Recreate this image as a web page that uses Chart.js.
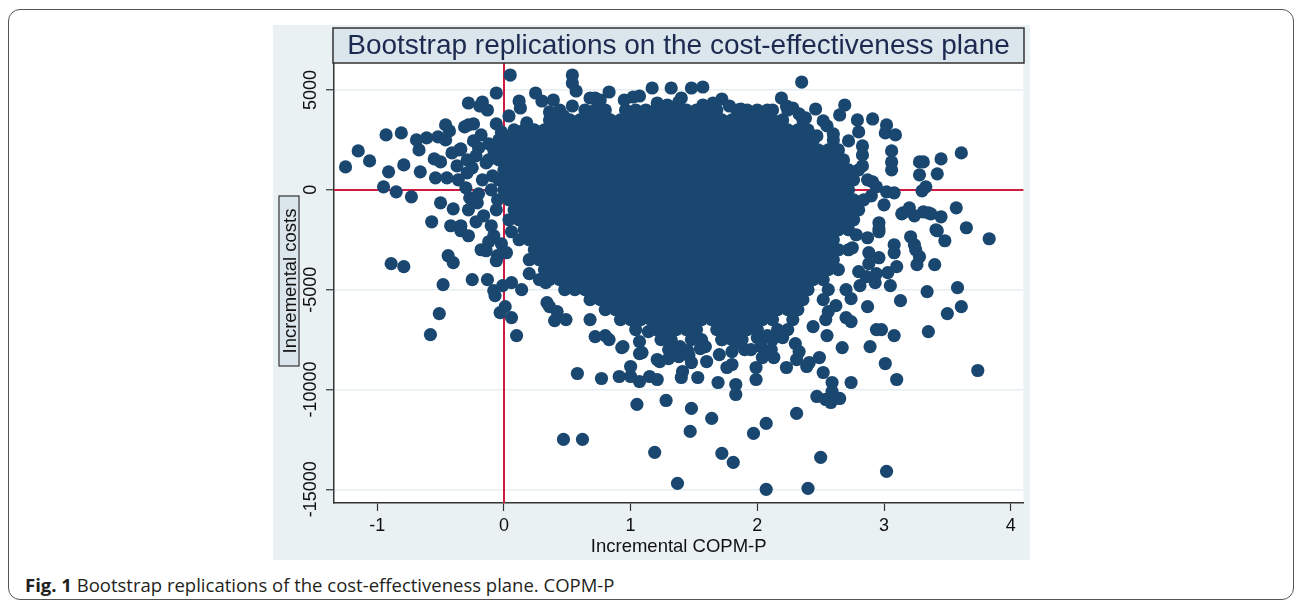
<!DOCTYPE html>
<html>
<head>
  <title>Bootstrap replications on the cost-effectiveness plane</title>
  <script src="https://cdn.jsdelivr.net/npm/chart.js"></script>
  <style>
    body { margin: 0; background: #fff; }
    .card { position: absolute; left: 8px; top: 9px; width: 1286px; height: 591px; box-sizing: border-box; border: 1.5px solid #555; border-radius: 12px; }
    .panel { position: absolute; left: 273px; top: 25px; width: 757px; height: 535px; background: #eaf1f3; }
    .caption { position: absolute; left: 25px; top: 572px; font-family: "Open Sans", sans-serif; font-size: 18.5px; color: #231f20; white-space: nowrap; }
  </style>
</head>
<body>
  <div class="card"></div>
  <div class="panel"><canvas id="plane" width="757" height="535"></canvas></div>
  <div class="caption"><b>Fig. 1</b> Bootstrap replications of the cost-effectiveness plane. COPM-P</div>

  <script>
    const chartTitle = "Bootstrap replications on the cost-effectiveness plane";
    const xTitle = "Incremental COPM-P";
    const yTitle = "Incremental costs";
    const xTicks = [-1, 0, 1, 2, 3, 4];
    const yTicks = [5000, 0, -5000, -10000, -15000];

    // scattered replications around the cloud: [incremental COPM-P, incremental cost]
    const edgePoints = [
      [-1.25,1150],[-1.15,1950],[-1.06,1450],[-0.93,2750],[-0.81,2850],[-0.91,900],[-0.79,1250],[-0.95,150],[-0.85,-100],[-0.73,-350],
      [-0.69,2500],[-0.67,2000],[-0.61,2600],[-0.66,900],[-0.52,2650],[-0.46,3250],[-0.43,2950],[-0.55,1550],[-0.5,1400],[-0.46,2500],
      [-0.41,1850],[-0.35,2000],[-0.37,1200],[-0.54,600],[-0.45,600],[-0.36,500],[-0.5,-650],[-0.4,-950],[-0.57,-1600],[-0.42,-1800],
      [-0.34,-1800],[-0.28,4350],[-0.19,4200],[-0.17,4400],[-0.13,4000],[-0.06,4850],[0.05,5750],[-0.28,3250],[-0.31,3150],[-0.24,3300],
      [-0.06,3300],[-0.02,2900],[-0.34,2050],[-0.24,2450],[-0.18,2750],[-0.29,1500],[-0.29,850],[-0.3,100],[-0.27,-400],[-0.28,-1000],
      [-0.34,-2050],[-0.28,-2300],[-0.18,-3000],[-0.14,-3050],[-0.08,-2300],[-0.1,-1800],[-0.05,-3300],[0.02,-3150],[-0.44,-3300],[-0.4,-3650],
      [-0.89,-3700],[-0.79,-3850],[0.04,3700],[0.12,4450],[0.13,4100],[0.25,4850],[0.3,4450],[0.39,4500],[0.36,3900],[0.18,3350],
      [-0.2,2100],[-0.17,500],[-0.21,-650],[-0.1,0],[-0.06,-1000],[-0.22,1700],[-0.25,1100],[-0.2,-200],[-0.16,-1300],[-0.22,-1600],
      [-0.12,-2600],[-0.02,-2700],[0.06,-2100],[-0.14,1350],[-0.09,700],[-0.12,2300],[0.03,2650],[-0.05,-500],
      [0.54,5750],[0.54,5350],[0.57,4950],[0.83,4900],[1.17,5100],[1.32,5100],[1.48,5100],[1.57,5150],[2.19,4600],[1.87,4050],
      [1.97,3750],[1.72,4550],[1.4,4600],[1.07,4700],[1.02,4650],[0.68,4600],[0.72,4600],[0.54,4200],[0.76,4500],[0.95,4500],
      [1.21,4350],[1.29,4250],[1.38,4400],[1.57,4250],[1.65,4350],[1.78,4200],[2.12,4000],[2.23,4200],[2.28,4100],[2.35,5400],
      [2.46,4050],[0.44,4000],[0.47,3700],[2.33,3800],[2.38,3600],
      [2.69,4250],[2.65,3750],[2.79,3500],[2.91,3550],[3.02,3250],[3.01,2850],[3.09,2750],[2.8,2900],[2.72,2450],[3.06,1950],
      [3.06,1400],[3.06,1000],[3.28,1400],[3.31,1400],[3.28,750],[3.42,800],[3.45,1550],[3.61,1850],[3.33,150],[3.3,-50],
      [3.02,-100],[3.08,-150],[2.83,2200],[2.83,1200],[2.91,400],[2.87,500],[2.83,1750],[3,-750],[2.55,3200],[2.6,2800],
      [2.9,-300],[2.94,150],[2.47,2700],[2.52,3450],
      [3.57,-900],[3.15,-1150],[3.2,-900],[3.31,-1100],[3.35,-1150],[3.45,-1350],[3.65,-1900],[3.83,-2450],[3.42,-2050],[3.48,-2550],
      [3.21,-2350],[3.24,-2750],[3.08,-2750],[2.87,-2400],[2.96,-2100],[2.96,-1650],[2.78,-2250],[3.14,-1200],[3.24,-1300],[3.37,-1200],
      [3.41,-2000],[2.96,-1950],[2.88,-3150],[2.96,-3400],[3.08,-3150],[3.25,-3000],[3.28,-3350],[3.26,-3750],[3.4,-3750],[2.88,-3700],
      [2.94,-4200],[3.03,-4150],[3.1,-3850],[2.86,-4350],[2.93,-4650],[2.81,-4800],[3.05,-4800],[3.34,-5100],[3.58,-4900],[3.61,-5850],
      [3.5,-6200],[3.35,-7100],[3.74,-9050],[3.13,-5550],[2.87,-5850],[2.74,-5450],[2.7,-6400],[2.74,-6600],[2.94,-7000],[2.98,-7000],
      [3.08,-7300],[2.89,-7850],[3.01,-8700],[3.1,-9500],[2.75,-2900],[2.8,-4100],[2.7,-5000],[2.62,-5800],[2.56,-6100],
      [-0.48,-4750],[-0.51,-6200],[-0.58,-7250],[-0.25,-4500],[-0.13,-4500],[-0.08,-5050],[-0.07,-5300],[-0.01,-4800],[0.06,-4650],[0.14,-5000],
      [0.01,-5850],[-0.03,-6150],[0.06,-6400],[0.1,-7300],[-0.06,-3550],[0.2,-4200],[0.33,-4650],[0.36,-5850],[0.4,-6550],[0.49,-6500],
      [0.68,-6500],[0.72,-7350],[0.8,-7300],[0.94,-7850],[1.07,-8200],[1,-8850],[1.15,-9350],[1.21,-9500],[1.07,-9600],[0.91,-9350],
      [0.77,-9450],[0.58,-9200],[1.23,-8600],[0.34,-5650],[0.42,-6100],[0.83,-7500],[0.93,-7900],[1.07,-7600],[1.09,-8150],[1.14,-7100],
      [1.23,-6750],[1.21,-8500],[1.3,-8450],[1.39,-7850],[1.38,-8350],[1.46,-8300],[1.48,-8650],[1.41,-9100],[1.4,-9400],[1.53,-9400],
      [1.59,-7850],[1.69,-9650],[1.7,-8250],[1.76,-8900],[1.72,-7500],[1,-9350],[1.3,-8000],[1.45,-8050],[1.55,-7950],[1.8,-8100],
      [1.9,-8000],
      [1.86,-7650],[2.04,-8400],[2.13,-8400],[2.11,-8000],[2.03,-7850],[2,-7400],[2.08,-7300],[2.2,-7400],[2.54,-6500],[2.55,-7300],
      [2.44,-6850],[2.67,-7900],[2.23,-8900],[2.33,-8100],[2.31,-8500],[2.39,-8850],[2.41,-8650],[2.49,-8400],[2.52,-9150],[2.59,-9650],
      [2.74,-9650],[1.8,-8750],[1.83,-9750],[1.83,-10250],[1.99,-9500],[1.99,-8900],[2.3,-7700],[1.95,-8000],[1.6,-8600],
      [1.05,-10750],[1.28,-10550],[1.48,-10950],[1.64,-11450],[1.47,-12100],[1.72,-13200],[1.81,-13650],[1.97,-12200],[2.07,-11700],[2.31,-11200],
      [2.5,-13400],[1.37,-14700],[2.07,-15000],[2.4,-14950],[3.02,-14100],[0.47,-12500],[0.62,-12500],[1.19,-13150],[2.47,-10350],[2.54,-10500],
      [2.58,-10650],[2.65,-10450],[2.59,-10100]
    ];

    // the dense middle of the cloud, read row by row (cost level -> effects)
    const coreCosts = [4000, 3500, 3000, 2500, 2000, 1500, 1000, 500, 0, -500, -1000, -1500,
                       -2000, -2500, -3000, -3500, -4000, -4500, -5000, -5500, -6000, -6500, -7000, -7500];
    const coreEffects = [
      [0.64,0.72,0.8,0.96,1.04,1.12,1.2,1.28,1.36,1.44,1.52,1.6,1.68,1.84,1.92,2,2.08,2.24],
      [0.36,0.44,0.52,0.6,0.68,0.76,0.84,0.92,1,1.08,1.16,1.24,1.32,1.4,1.48,1.56,1.64,1.72,1.8,1.88,1.96,2.04,2.12,2.2,2.36],
      [0.08,0.16,0.24,0.32,0.4,0.48,0.56,0.64,0.72,0.8,0.88,0.96,1.04,1.12,1.2,1.28,1.36,1.44,1.52,1.6,1.68,1.76,1.84,1.92,2,2.08,2.16,2.24,2.32,2.4],
      [-0.04,0.04,0.12,0.2,0.28,0.36,0.44,0.52,0.6,0.68,0.76,0.84,0.92,1,1.08,1.16,1.24,1.32,1.4,1.48,1.56,1.64,1.72,1.8,1.88,1.96,2.04,2.12,2.2,2.28,2.36,2.44,2.6],
      [-0.08,0,0.08,0.16,0.24,0.32,0.4,0.48,0.56,0.64,0.72,0.8,0.88,0.96,1.04,1.12,1.2,1.28,1.36,1.44,1.52,1.6,1.68,1.76,1.84,1.92,2,2.08,2.16,2.24,2.32,2.4,2.48,2.56,2.64],
      [-0.12,-0.04,0.04,0.12,0.2,0.28,0.36,0.44,0.52,0.6,0.68,0.76,0.84,0.92,1,1.08,1.16,1.24,1.32,1.4,1.48,1.56,1.64,1.72,1.8,1.88,1.96,2.04,2.12,2.2,2.28,2.36,2.44,2.52,2.6,2.68],
      [0,0.08,0.16,0.24,0.32,0.4,0.48,0.56,0.64,0.72,0.8,0.88,0.96,1.04,1.12,1.2,1.28,1.36,1.44,1.52,1.6,1.68,1.76,1.84,1.92,2,2.08,2.16,2.24,2.32,2.4,2.48,2.56,2.64,2.72,2.8],
      [-0.04,0.04,0.12,0.2,0.28,0.36,0.44,0.52,0.6,0.68,0.76,0.84,0.92,1,1.08,1.16,1.24,1.32,1.4,1.48,1.56,1.64,1.72,1.8,1.88,1.96,2.04,2.12,2.2,2.28,2.36,2.44,2.52,2.6,2.68,2.76],
      [0,0.08,0.16,0.24,0.32,0.4,0.48,0.56,0.64,0.72,0.8,0.88,0.96,1.04,1.12,1.2,1.28,1.36,1.44,1.52,1.6,1.68,1.76,1.84,1.92,2,2.08,2.16,2.24,2.32,2.4,2.48,2.56,2.64,2.72],
      [0.04,0.12,0.2,0.28,0.36,0.44,0.52,0.6,0.68,0.76,0.84,0.92,1,1.08,1.16,1.24,1.32,1.4,1.48,1.56,1.64,1.72,1.8,1.88,1.96,2.04,2.12,2.2,2.28,2.36,2.44,2.52,2.6,2.68,2.76,2.84],
      [0.08,0.16,0.24,0.32,0.4,0.48,0.56,0.64,0.72,0.8,0.88,0.96,1.04,1.12,1.2,1.28,1.36,1.44,1.52,1.6,1.68,1.76,1.84,1.92,2,2.08,2.16,2.24,2.32,2.4,2.48,2.56,2.64,2.72,2.8],
      [0.04,0.12,0.2,0.28,0.36,0.44,0.52,0.6,0.68,0.76,0.84,0.92,1,1.08,1.16,1.24,1.32,1.4,1.48,1.56,1.64,1.72,1.8,1.88,1.96,2.04,2.12,2.2,2.28,2.36,2.44,2.52,2.6,2.68,2.76],
      [0.16,0.24,0.32,0.4,0.48,0.56,0.64,0.72,0.8,0.88,0.96,1.04,1.12,1.2,1.28,1.36,1.44,1.52,1.6,1.68,1.76,1.84,1.92,2,2.08,2.16,2.24,2.32,2.4,2.48,2.56,2.64,2.72],
      [0.12,0.2,0.28,0.36,0.44,0.52,0.6,0.68,0.76,0.84,0.92,1,1.08,1.16,1.24,1.32,1.4,1.48,1.56,1.64,1.72,1.8,1.88,1.96,2.04,2.12,2.2,2.28,2.36,2.44,2.52,2.6],
      [0.24,0.32,0.4,0.48,0.56,0.64,0.72,0.8,0.88,0.96,1.04,1.12,1.2,1.28,1.36,1.44,1.52,1.6,1.68,1.76,1.84,1.92,2,2.08,2.16,2.24,2.32,2.4,2.48,2.56,2.64,2.72],
      [0.2,0.28,0.36,0.44,0.52,0.6,0.68,0.76,0.84,0.92,1,1.08,1.16,1.24,1.32,1.4,1.48,1.56,1.64,1.72,1.8,1.88,1.96,2.04,2.12,2.2,2.28,2.36,2.44,2.52,2.6],
      [0.32,0.4,0.48,0.56,0.64,0.72,0.8,0.88,0.96,1.04,1.12,1.2,1.28,1.36,1.44,1.52,1.6,1.68,1.76,1.84,1.92,2,2.08,2.16,2.24,2.32,2.4,2.48,2.56,2.64],
      [0.28,0.36,0.44,0.52,0.6,0.68,0.76,0.84,0.92,1,1.08,1.16,1.24,1.32,1.4,1.48,1.56,1.64,1.72,1.8,1.88,1.96,2.04,2.12,2.2,2.28,2.36,2.44,2.52],
      [0.48,0.56,0.64,0.72,0.8,0.88,0.96,1.04,1.12,1.2,1.28,1.36,1.44,1.52,1.6,1.68,1.76,1.84,1.92,2,2.08,2.16,2.24,2.32,2.4,2.56],
      [0.68,0.76,0.84,0.92,1,1.08,1.16,1.24,1.32,1.4,1.48,1.56,1.64,1.72,1.8,1.88,1.96,2.04,2.12,2.2,2.28,2.36,2.52],
      [0.8,0.88,0.96,1.04,1.12,1.2,1.28,1.36,1.44,1.52,1.6,1.68,1.76,1.84,1.92,2,2.08,2.16,2.24,2.32],
      [0.92,1,1.08,1.16,1.24,1.32,1.4,1.48,1.56,1.64,1.72,1.8,1.88,1.96,2.04,2.12,2.28],
      [1.04,1.2,1.28,1.36,1.44,1.52,1.68,1.76,1.84,1.92,2,2.16,2.24],
      [1.24,1.32,1.48,1.56,1.72,1.8,1.88,2.04,2.12]
    ];

    const points = edgePoints.map(p => ({x: p[0], y: p[1]}));
    coreCosts.forEach((c, i) => coreEffects[i].forEach(e => points.push({x: e, y: c})));

    const font = "'Liberation Sans', Arial, sans-serif";

    // Stata-like decorations: white plot region, red zero lines, boxed titles, rotated y labels
    const planeDecor = {
      id: 'planeDecor',
      beforeDraw(chart) {
        const {ctx, chartArea: a} = chart;
        ctx.save();
        ctx.fillStyle = '#fff';
        ctx.fillRect(a.left, a.top, a.right - a.left, a.bottom - a.top);
        ctx.restore();
      },
      beforeDatasetsDraw(chart) {
        const {ctx, chartArea: a, scales: {x, y}} = chart;
        const x0 = Math.round(x.getPixelForValue(0));
        const y0 = Math.round(y.getPixelForValue(0));
        ctx.save();
        ctx.strokeStyle = '#d11a40';
        ctx.lineWidth = 2;
        ctx.beginPath();
        ctx.moveTo(x0, a.top); ctx.lineTo(x0, a.bottom);
        ctx.moveTo(a.left, y0); ctx.lineTo(a.right, y0);
        ctx.stroke();
        ctx.restore();
      },
      afterDraw(chart) {
        const {ctx, chartArea: a, scales: {y}} = chart;
        ctx.save();
        // title box
        ctx.fillStyle = '#dbe5ec';
        ctx.fillRect(60, 3, 691, 35);
        ctx.strokeStyle = '#333';
        ctx.lineWidth = 1.5;
        ctx.strokeRect(60, 3, 691, 35);
        ctx.fillStyle = '#1c2a50';
        ctx.font = '28px ' + font;
        ctx.textAlign = 'center';
        ctx.textBaseline = 'middle';
        ctx.fillText(chartTitle, 405.5, 21);

        // y tick labels, rotated
        ctx.fillStyle = '#111';
        ctx.font = '18px ' + font;
        yTicks.forEach(v => {
          ctx.save();
          ctx.translate(37.5, y.getPixelForValue(v));
          ctx.rotate(-Math.PI / 2);
          ctx.fillText(String(v), 0, 1);
          ctx.restore();
        });

        // y title in a box
        ctx.fillStyle = '#dbe5ec';
        ctx.fillRect(6, 171, 20, 170);
        ctx.strokeStyle = '#333';
        ctx.lineWidth = 1.2;
        ctx.strokeRect(6, 171, 20, 170);
        ctx.save();
        ctx.translate(16.5, 256);
        ctx.rotate(-Math.PI / 2);
        ctx.fillStyle = '#111';
        ctx.font = '18.5px ' + font;
        ctx.fillText(yTitle, 0, 1);
        ctx.restore();

        // x title
        ctx.fillStyle = '#111';
        ctx.font = '18.5px ' + font;
        ctx.fillText(xTitle, (a.left + a.right) / 2, 522);
        ctx.restore();
      }
    };

    new Chart(document.getElementById('plane'), {
      type: 'scatter',
      data: {
        datasets: [{
          data: points,
          backgroundColor: '#1a476f',
          borderWidth: 0,
          pointRadius: 6.6,
          pointHoverRadius: 6.6
        }]
      },
      options: {
        responsive: false,
        devicePixelRatio: 1,
        animation: false,
        events: [],
        layout: { padding: { top: 38, right: 5, left: 0, bottom: 0 } },
        plugins: { legend: { display: false }, tooltip: { enabled: false } },
        scales: {
          x: {
            min: -1.341, max: 4.1,
            afterBuildTicks: s => { s.ticks = xTicks.map(v => ({value: v})); },
            afterFit: s => { s.height = 57; },
            grid: { drawOnChartArea: false, drawTicks: true, tickLength: 8, tickColor: '#333', tickWidth: 1.2 },
            border: { display: true, color: '#333', width: 1.5 },
            ticks: { color: '#111', font: { family: font, size: 18 }, padding: 4, maxRotation: 0, autoSkip: false,
                     callback: v => String(v) }
          },
          y: {
            min: -15686, max: 6353,
            afterBuildTicks: s => { s.ticks = yTicks.map(v => ({value: v})); },
            afterFit: s => { s.width = 61; },
            grid: { color: '#e6eef1', lineWidth: 1.5, drawTicks: true, tickLength: 8, tickColor: '#333', tickWidth: 1.2 },
            border: { display: true, color: '#333', width: 1.5 },
            ticks: { display: false }
          }
        }
      },
      plugins: [planeDecor]
    });
  </script>
</body>
</html>
